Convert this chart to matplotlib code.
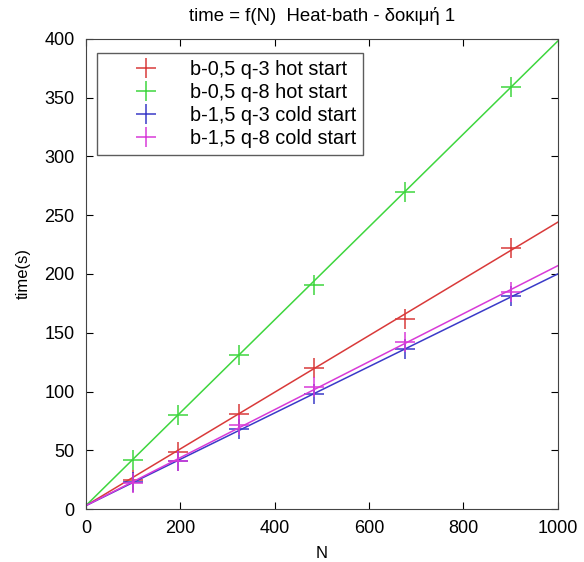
import numpy as np
import matplotlib
matplotlib.use("Agg")
import matplotlib.pyplot as plt

plt.rcParams['font.family'] = ['Liberation Sans', 'DejaVu Sans']

N = [100, 196, 324, 484, 676, 900]
hot_q3 = [25, 49, 81, 120, 162, 222]
hot_q8 = [42, 80, 131, 191, 270, 359]
cold_q3 = [23, 41, 68, 98, 136, 181]
cold_q8 = [22, 41, 72, 104, 142, 185]

# linear fits (slope, intercept) as drawn in the original
fit_hot_q3 = (0.241, 3)
fit_hot_q8 = (0.395, 3)
fit_cold_q3 = (0.197, 3)
fit_cold_q8 = (0.204, 3)

labels = ["b-0,5 q-3 hot start", "b-0,5 q-8 hot start",
          "b-1,5 q-3 cold start", "b-1,5 q-8 cold start"]
colors = ["#d93a3a", "#3ed63e", "#3a3ac8", "#d83ad8"]

fig = plt.figure(figsize=(5.84, 5.62), dpi=100)
ax = fig.add_axes([0.147, 0.094, 0.808, 0.837])

xs = np.array([0, 1000])
series = [hot_q3, hot_q8, cold_q3, cold_q8]
fits = [fit_hot_q3, fit_hot_q8, fit_cold_q3, fit_cold_q8]
for y, (m, b), c, lab in zip(series, fits, colors, labels):
    ax.plot(N, y, '+', color=c, ms=15, mew=1.1, label=lab)
    ax.plot(xs, m * xs + b, '-', color=c, lw=1.1)

ax.set_xlim(0, 1000)
ax.set_ylim(0, 400)
ax.set_xticks(range(0, 1001, 200))
ax.set_yticks(range(0, 401, 50))
ax.tick_params(direction='in', labelsize=13, length=5, pad=8, top=True, right=True)
for s in ax.spines.values():
    s.set_color('#444444')
ax.set_xlabel("N", fontsize=12, labelpad=6)
ax.set_ylabel("time(s)", fontsize=12, labelpad=10)
ax.set_title("time = f(N)  Heat-bath - δοκιμή 1", fontsize=13.4, pad=13)

leg = ax.legend(loc='upper left', bbox_to_anchor=(0.023, 0.970), borderaxespad=0,
                fontsize=14.3, frameon=True, fancybox=False,
                edgecolor='#333333', handletextpad=0.05,
                handlelength=4.3, labelspacing=0.2, borderpad=0.35)
leg.get_frame().set_linewidth(1.0)

fig.savefig("out.png", dpi=100)
